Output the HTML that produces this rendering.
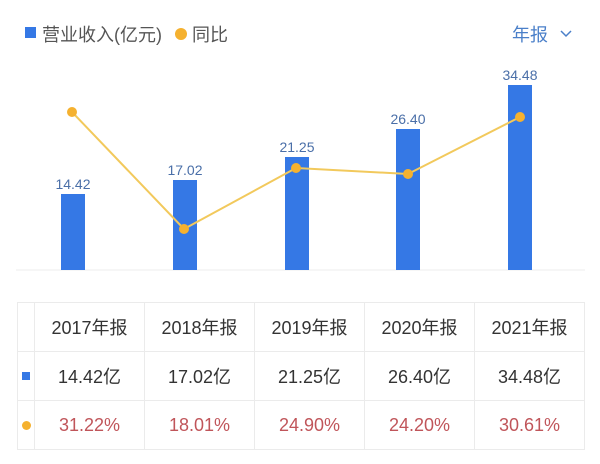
<!DOCTYPE html>
<html><head><meta charset="utf-8"><style>
body{margin:0;width:600px;height:464px;background:#fff;overflow:hidden;font-family:"Liberation Sans","Noto Sans CJK SC",sans-serif;}
svg{position:absolute;left:0;top:0}
table{position:absolute;left:17px;top:302px;border-collapse:collapse;}
td{border:1px solid #ebebeb;text-align:center;font-size:18px;color:#333;height:48px;padding:0;width:109px;}
td.f{width:16px;}
.r td{color:#c0555a}
</style></head><body>
<svg width="600" height="300">
<rect x="25" y="27" width="11" height="11" fill="#3578e5"/>
<text x="42" y="41" font-size="18" fill="#555" font-family="Liberation Sans,Noto Sans CJK SC,sans-serif">营业收入(亿元)</text>
<circle cx="181" cy="34" r="6" fill="#f5b12f"/>
<text x="192" y="41" font-size="18" fill="#555" font-family="Liberation Sans,Noto Sans CJK SC,sans-serif">同比</text>
<text x="512" y="41" font-size="18" fill="#4a7fc9" font-family="Liberation Sans,Noto Sans CJK SC,sans-serif">年报</text>
<polyline points="561,31 566,36 571,31" fill="none" stroke="#4a7fc9" stroke-width="1.5"/>
<line x1="16" y1="270" x2="585" y2="270" stroke="#eee"/>
<g fill="#3578e5">
<rect x="61" y="194" width="24" height="76"/>
<rect x="173" y="180" width="24" height="90"/>
<rect x="285" y="157" width="24" height="113"/>
<rect x="396" y="129" width="24" height="141"/>
<rect x="508" y="85" width="24" height="185"/>
</g>
<g font-size="14" fill="#4a6fa8" text-anchor="middle" font-family="Liberation Sans,sans-serif">
<text x="73" y="189">14.42</text><text x="185" y="175">17.02</text><text x="297" y="152">21.25</text><text x="408" y="124">26.40</text><text x="520" y="80">34.48</text>
</g>
<polyline points="72,112 184,229 296,168 408,174 520,117" fill="none" stroke="#f2c95c" stroke-width="2"/>
<g fill="#f5b12f"><circle cx="72" cy="112" r="5"/><circle cx="184" cy="229" r="5"/><circle cx="296" cy="168" r="5"/><circle cx="408" cy="174" r="5"/><circle cx="520" cy="117" r="5"/></g>
</svg>
<table>
<tr><td class="f"></td><td>2017年报</td><td>2018年报</td><td>2019年报</td><td>2020年报</td><td>2021年报</td></tr>
<tr><td class="f"><div style="width:8px;height:8px;background:#3578e5;margin:auto"></div></td><td>14.42亿</td><td>17.02亿</td><td>21.25亿</td><td>26.40亿</td><td>34.48亿</td></tr>
<tr class="r"><td class="f"><div style="width:9px;height:9px;border-radius:50%;background:#f5b12f;margin:auto"></div></td><td>31.22%</td><td>18.01%</td><td>24.90%</td><td>24.20%</td><td>30.61%</td></tr>
</table>
</body></html>
